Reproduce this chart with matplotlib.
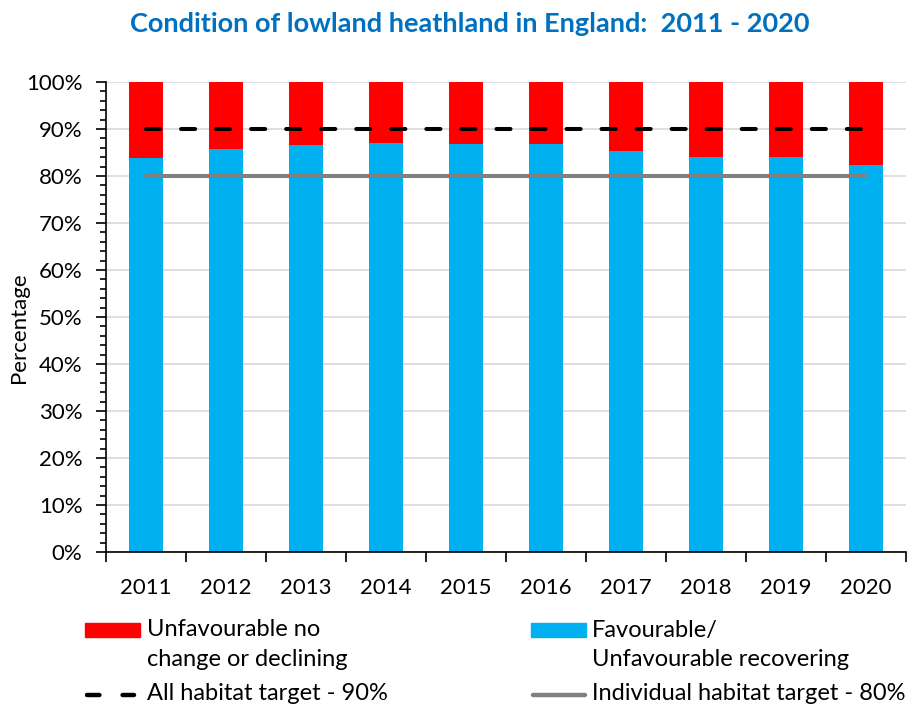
import matplotlib
matplotlib.use("Agg")
import matplotlib.pyplot as plt
import numpy as np
from matplotlib.patches import Rectangle
from matplotlib.lines import Line2D
from matplotlib.ticker import MultipleLocator, PercentFormatter

# Daten
years = ["2011", "2012", "2013", "2014", "2015", "2016", "2017", "2018", "2019", "2020"]
favourable = [83.8, 85.7, 86.6, 87.0, 86.8, 86.8, 85.4, 84.0, 84.0, 82.3]
unfavourable = [100 - v for v in favourable]
all_target = [90] * len(years)
individual_target = [80] * len(years)

COLOR_RED = "#FF0000"
COLOR_BLUE = "#00B0F0"
COLOR_TITLE = "#0070C0"
COLOR_GREY = "#808080"
FONT_MAIN = "Lato"

plt.rcParams.update({
    "font.family": [FONT_MAIN, "DejaVu Sans"],
    "font.size": 16,
})

W, H = 907, 706
fig = plt.figure(figsize=(W / 100, H / 100), dpi=100)
ax = fig.add_axes([106 / W, 1 - 552 / H, 800 / W, 470 / H])

x = np.arange(len(years))
ax.bar(x, favourable, width=0.42, color=COLOR_BLUE, zorder=2)
ax.bar(x, unfavourable, bottom=favourable, width=0.42, color=COLOR_RED, zorder=2)
ax.plot(x, all_target, color="black", lw=2.9, linestyle=(0, (3.5, 5.2)),
        dash_capstyle="round", zorder=3)
ax.plot(x, individual_target, color=COLOR_GREY, lw=2.9,
        solid_capstyle="round", zorder=3)

# Achsen
ax.set_xlim(-0.5, len(years) - 0.5)
ax.set_ylim(0, 100)
ax.yaxis.set_major_locator(MultipleLocator(10))
ax.yaxis.set_minor_locator(MultipleLocator(2))
ax.yaxis.set_major_formatter(PercentFormatter(decimals=0))
ax.yaxis.grid(True, color="#D9D9D9", lw=1.2, zorder=0)
ax.set_axisbelow(True)

ax.set_xticks(np.arange(len(years) + 1) - 0.5)
ax.set_xticklabels([])
ax.set_xticks(x, minor=True)
ax.set_xticklabels(years, minor=True)
ax.tick_params(axis="x", which="major", length=7, width=1.2, direction="out")
ax.tick_params(axis="x", which="minor", length=0, pad=19, labelsize=16)
ax.tick_params(axis="y", which="major", length=7, width=1.2, pad=10, labelsize=16)
ax.tick_params(axis="y", which="minor", length=4.5, width=1.2)

for side in ["top", "right"]:
    ax.spines[side].set_visible(False)
for side in ["left", "bottom"]:
    ax.spines[side].set_linewidth(1.2)

ax.set_ylabel("Percentage", fontsize=16)
ax.yaxis.set_label_coords(-0.096, 1 - (328 - 82) / 470)

fig.text(469.5 / W, 1 - 24 / H, "Condition of lowland heathland in England:  2011 - 2020",
         ha="center", va="center", fontsize=19.5, fontweight="bold", color=COLOR_TITLE)

# Legende (manuell, wie im Original)
fig.add_artist(Rectangle((85 / W, 1 - 637 / H), 55 / W, 14 / H, color=COLOR_RED,
                         transform=fig.transFigure))
fig.add_artist(Rectangle((531 / W, 1 - 637 / H), 55 / W, 14 / H, color=COLOR_BLUE,
                         transform=fig.transFigure))
fig.add_artist(Line2D([87 / W, 134 / W], [1 - 695 / H] * 2, color="black", lw=3.2,
                      linestyle=(0, (2.8, 5.2)), dash_capstyle="round",
                      transform=fig.transFigure))
fig.add_artist(Line2D([533 / W, 585 / W], [1 - 695 / H] * 2, color=COLOR_GREY, lw=3.2,
                      solid_capstyle="round", transform=fig.transFigure))

leg_kw = dict(fontsize=17, va="center", ha="left")
fig.text(147 / W, 1 - 630 / H, "Unfavourable no", **leg_kw)
fig.text(147 / W, 1 - 660 / H, "change or declining", **leg_kw)
fig.text(147 / W, 1 - 694 / H, "All habitat target - 90%", **leg_kw)
fig.text(592 / W, 1 - 630 / H, "Favourable/", **leg_kw)
fig.text(592 / W, 1 - 660 / H, "Unfavourable recovering", **leg_kw)
fig.text(592 / W, 1 - 694 / H, "Individual habitat target - 80%", **leg_kw)

fig.savefig("out.png", dpi=100)
